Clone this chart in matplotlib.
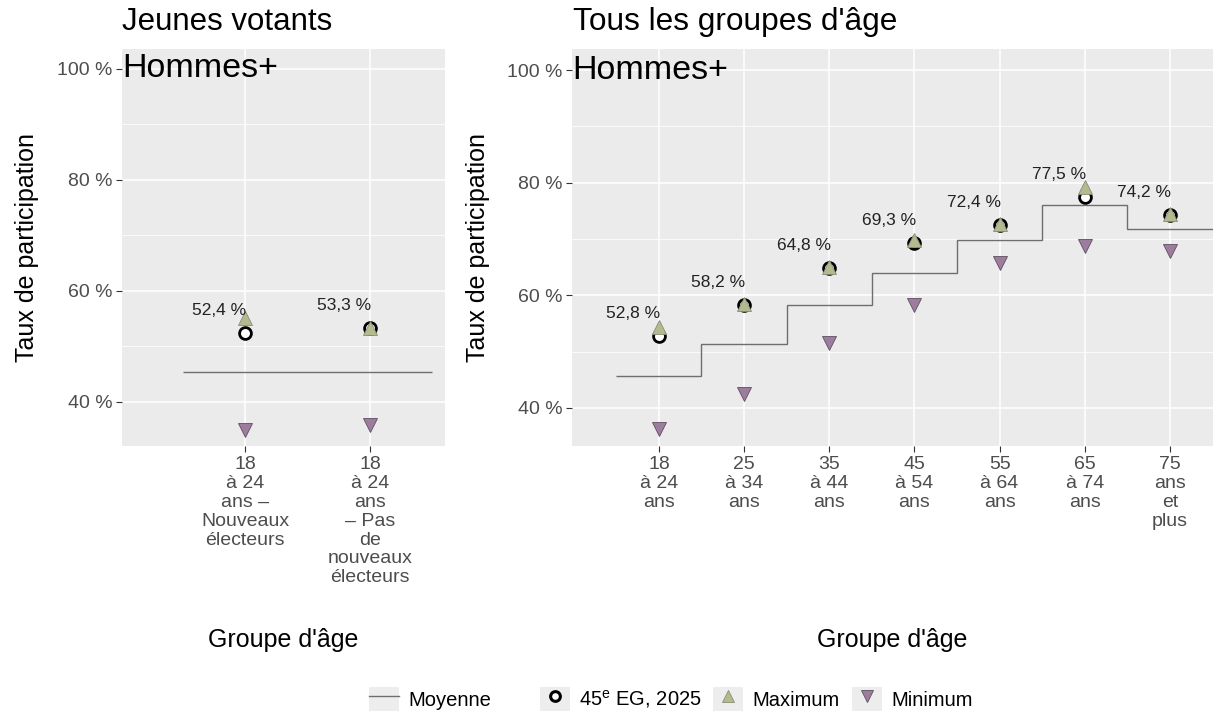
import matplotlib
matplotlib.use("Agg")
import matplotlib.pyplot as plt
from matplotlib.lines import Line2D
from matplotlib.patches import Patch
from matplotlib.legend_handler import HandlerTuple
from matplotlib.ticker import FixedLocator
import matplotlib.transforms as mtransforms

plt.rcParams['font.family'] = ['Liberation Sans', 'DejaVu Sans']

# ---------------- data ----------------
young_cats = ["18\nà 24\nans –\nNouveaux\nélecteurs",
              "18\nà 24\nans\n– Pas\nde\nnouveaux\nélecteurs"]
young_val = [52.4, 53.3]
young_max = [55.1, 53.4]
young_min = [35.0, 35.8]
young_mean = 45.4

age_cats = ["18\nà 24\nans", "25\nà 34\nans", "35\nà 44\nans", "45\nà 54\nans",
            "55\nà 64\nans", "65\nà 74\nans", "75\nans\net\nplus"]
age_val = [52.8, 58.2, 64.8, 69.3, 72.4, 77.5, 74.2]
age_max = [54.3, 58.4, 65.1, 69.8, 72.6, 79.2, 74.4]
age_min = [36.3, 42.5, 51.6, 58.3, 65.7, 68.8, 67.9]
age_mean = [45.7, 51.3, 58.2, 63.9, 69.9, 76.1, 71.8]

yticks = [40, 60, 80, 100]
ytick_labels = ["40 %", "60 %", "80 %", "100 %"]

# ---------------- style ----------------
W, H = 1213, 713
PANEL = "#EBEBEB"
MAXC = "#B4BA8E"
MINC = "#9D7D9E"
MEANC = "#6E6E6E"
TICKC = "#4D4D4D"

fig = plt.figure(figsize=(W / 100, H / 100), dpi=100)
ax1 = fig.add_axes([122 / W, 1 - 446 / H, (445 - 122) / W, (446 - 49) / H])
ax2 = fig.add_axes([572 / W, 1 - 446 / H, (1213 - 572) / W, (446 - 49) / H])


def fmt(v):
    return f"{v:.1f}".replace(".", ",") + " %"


def style(ax, cats):
    ax.set_facecolor(PANEL)
    for s in ax.spines.values():
        s.set_visible(False)
    ax.set_xticks(range(1, len(cats) + 1))
    ax.set_xticklabels(cats, fontsize=14, color=TICKC, linespacing=1.15)
    ax.set_yticks(yticks)
    ax.set_yticklabels(ytick_labels, fontsize=14, color=TICKC)
    ax.yaxis.set_minor_locator(FixedLocator([30, 50, 70, 90]))
    ax.grid(True, which='major', color='white', lw=1.1)
    ax.grid(True, which='minor', axis='y', color='white', lw=0.55)
    ax.tick_params(axis='both', which='major', length=4, width=0.8, color='#333333', pad=3)
    ax.tick_params(axis='both', which='minor', length=0)
    ax.set_axisbelow(True)
    ax.set_ylabel("Taux de participation", fontsize=18, color='black')
    ax.set_xlabel("Groupe d'âge", fontsize=18, color='black')
    ax.yaxis.label.set_verticalalignment('center')
    ax.xaxis.label.set_verticalalignment('center')
    tr = mtransforms.blended_transform_factory(ax.transAxes, ax.transData)
    ax.text(0.0, 100, "Hommes+", transform=tr, fontsize=24.5, ha='left', va='center', color='black')


def points(ax, xs, val, mx, mn):
    ax.plot(xs, val, 'o', ms=8.5, mfc='white', mec='black', mew=2.0, ls='none', zorder=3)
    ax.plot(xs, mx, '^', ms=10, mfc=MAXC, mec='#8A8A7A', mew=0.6, ls='none', zorder=4)
    ax.plot(xs, mn, 'v', ms=10, mfc=MINC, mec='#5E4E5E', mew=0.6, ls='none', zorder=4)


def labels(ax, xs, val):
    for x, v in zip(xs, val):
        ax.annotate(fmt(v), (x, v + 4.0), xytext=(1, 0), textcoords='offset points',
                    fontsize=12.5, ha='right', va='center', color='#222222', zorder=5)


# ---- left panel ----
style(ax1, young_cats)
x1 = list(range(1, len(young_cats) + 1))
ax1.hlines(young_mean, 0.5, 2.5, color=MEANC, lw=1.0, zorder=2)
points(ax1, x1, young_val, young_max, young_min)
labels(ax1, x1, young_val)
ax1.set_xlim(0.016, 2.6)
ax1.set_ylim(32.07, 103.6)
ax1.yaxis.set_label_coords(-0.294, 0.5)
ax1.xaxis.set_label_coords(0.5, -0.4887)
fig.text(122 / W, 1 - 22 / H, "Jeunes votants", fontsize=22.5, ha='left', va='center')

# ---- right panel ----
style(ax2, age_cats)
x2 = list(range(1, len(age_cats) + 1))
edges = [x - 0.5 for x in x2] + [x2[-1] + 0.5]
ax2.stairs(age_mean, edges, color=MEANC, lw=1.0, zorder=2, baseline=None)
points(ax2, x2, age_val, age_max, age_min)
labels(ax2, x2, age_val)
ax2.set_xlim(-0.02, 7.505)
ax2.set_ylim(33.25, 103.73)
ax2.yaxis.set_label_coords(-0.1467, 0.5)
ax2.xaxis.set_label_coords(0.5, -0.4887)
fig.text(573 / W, 1 - 22 / H, "Tous les groupes d'âge", fontsize=22.8, ha='left', va='center')

# ---- legends ----
keybg = dict(facecolor='#EDEDED', edgecolor='none')
h_mean = (Patch(**keybg), Line2D([], [], color=MEANC, lw=1.0))
h_val = (Patch(**keybg), Line2D([], [], marker='o', ms=7, mfc='white', mec='black', mew=2.2, ls='none'))
h_max = (Patch(**keybg), Line2D([], [], marker='^', ms=9, mfc=MAXC, mec='#8A8A7A', mew=0.6, ls='none'))
h_min = (Patch(**keybg), Line2D([], [], marker='v', ms=9, mfc=MINC, mec='#5E4E5E', mew=0.6, ls='none'))

common = dict(frameon=False, fontsize=14.5, handlelength=1.49, handleheight=1.49,
              handletextpad=0.45, borderpad=0, borderaxespad=0,
              handler_map={tuple: HandlerTuple(ndivide=1, pad=0)})
leg1 = fig.legend([h_mean], ["Moyenne"], loc='center', bbox_to_anchor=(430 / W, 1 - 699 / H), **common)
leg2 = fig.legend([h_val, h_max, h_min], ["45$^{\\mathregular{e}}$ EG, 2025", "Maximum", "Minimum"],
                  loc='center', bbox_to_anchor=(756 / W, 1 - 699 / H), ncol=3, columnspacing=0.6, **common)

fig.savefig("out.png", dpi=100)
